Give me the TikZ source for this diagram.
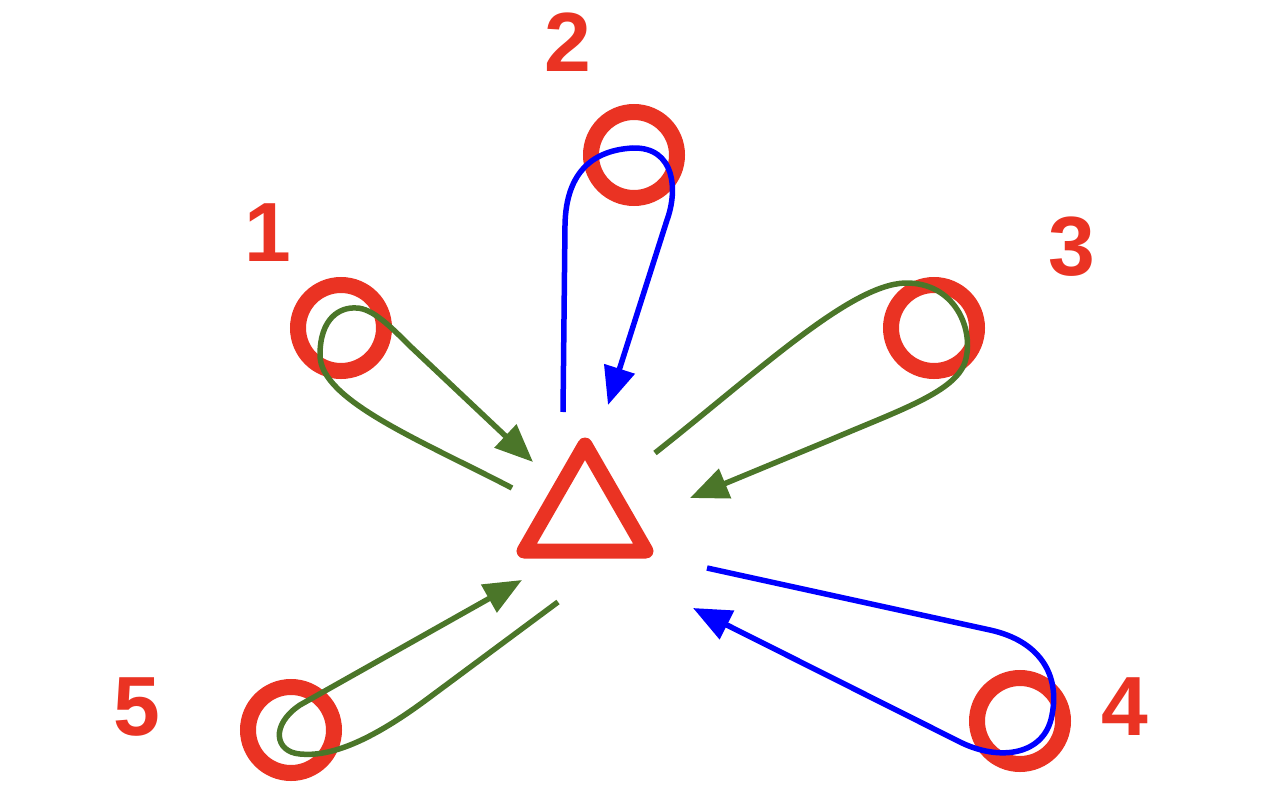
\documentclass[tikz,border=0pt]{standalone}
\usepackage{fontspec}
\setmainfont{Liberation Sans}
\usetikzlibrary{arrows.meta}
\definecolor{ringred}{RGB}{234,51,35}
\definecolor{loopgreen}{RGB}{75,118,41}
\definecolor{loopblue}{RGB}{0,0,255}
\begin{document}
\begin{tikzpicture}[x=1pt,y=-1pt,
  ring/.style={circle,draw=ringred,line width=16pt,minimum size=86pt,inner sep=0pt},
  lbl/.style={text=ringred,font=\fontsize{84}{84}\selectfont\bfseries,inner sep=0pt},
  gloop/.style={draw=loopgreen,line width=5.5pt,-{Triangle[length=38pt,width=31pt]}},
  bloop/.style={draw=loopblue,line width=5.5pt,-{Triangle[length=38pt,width=31pt]}}]
\useasboundingbox (0,0) rectangle (1280,792);
% rings
\node[ring] (c1) at (341,328) {};
\node[ring] (c2) at (634,155) {};
\node[ring] (c3) at (934,328) {};
\node[ring] (c4) at (1020,721) {};
\node[ring] (c5) at (291,730) {};
% labels
\node[lbl] (l1) at (268,233) {1};
\node[lbl] (l2) at (568,42) {2};
\node[lbl] (l3) at (1072,247) {3};
\node[lbl] (l4) at (1125,707) {4};
\node[lbl] (l5) at (137,707) {5};
% triangle
\coordinate (ta) at (585,445);
\coordinate (tb) at (524,551);
\coordinate (tc) at (646,551);
\coordinate (tri) at (585,516);
\draw[draw=ringred,line width=15pt,line join=round] (ta) -- (tb) -- (tc) -- cycle;
% loop ends
\coordinate (s1) at (512,488); \coordinate (e1) at (533,462);
\coordinate (s2) at (563,412); \coordinate (e2) at (608,405);
\coordinate (s3) at (655,453); \coordinate (e3) at (690,498);
\coordinate (s4) at (707,568); \coordinate (e4) at (693,608);
\coordinate (s5) at (558,602); \coordinate (e5) at (522,580);
% loops
\draw[gloop] (s1) .. controls (420,440) and (320,400) .. (320,355)
  .. controls (320,318) and (340,307) .. (356,308)
  .. controls (372,308) and (390,326) .. (410,346) -- (e1);
\draw[bloop] (s2) -- (565,225) .. controls (566,170) and (595,150) .. (633,148)
  .. controls (675,147) and (678,190) .. (667,220) -- (e2);
\draw[gloop] (s3) .. controls (760,370) and (850,285) .. (905,283)
  .. controls (955,282) and (975,330) .. (965,362)
  .. controls (955,392) and (900,410) .. (830,440) -- (e3);
\draw[bloop] (s4) -- (990,630) .. controls (1040,641) and (1060,675) .. (1052,715)
  .. controls (1045,755) and (1000,762) .. (960,742) -- (e4);
\draw[gloop] (s5) -- (430,697) .. controls (370,742) and (330,757) .. (300,754)
  .. controls (275,752) and (270,725) .. (300,705) -- (e5);
\end{tikzpicture}
\end{document}
